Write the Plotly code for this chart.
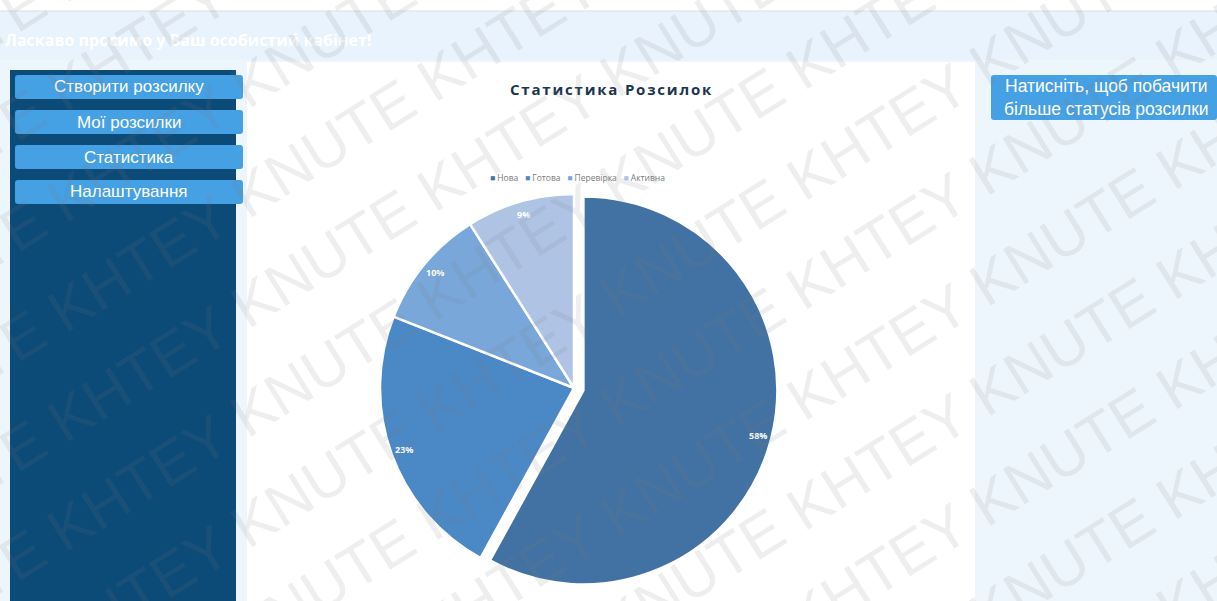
import math
import plotly.graph_objects as go

# ---------------- data ----------------
categories = ["Нова", "Готова", "Перевірка", "Активна"]
values = [58, 23, 10, 9]
colors = ["#4272a3", "#4a88c6", "#79a7da", "#afc4e5"]
pulls = [0.05, 0, 0, 0]

menu_items = ["Створити розсилку", "Мої розсилки", "Статистика", "Налаштування"]
chart_title = "Статистика Розсилок"
header_text = "Ласкаво просимо у Ваш особистий кабінет!"
side_button_text = "Натисніть, щоб побачити<br>більше статусів розсилки"
watermark_text = "KHTEY KNUTE "

W, H = 1217, 601


def px(x):
    return x / W


def py(y):
    return 1 - y / H


def rrect(x0, y0, x1, y1, r):
    """rounded rect path in paper coords from pixel coords"""
    X = lambda v: f"{px(v):.5f}"
    Y = lambda v: f"{py(v):.5f}"
    return (f"M {X(x0 + r)},{Y(y0)} L {X(x1 - r)},{Y(y0)} Q {X(x1)},{Y(y0)} {X(x1)},{Y(y0 + r)} "
            f"L {X(x1)},{Y(y1 - r)} Q {X(x1)},{Y(y1)} {X(x1 - r)},{Y(y1)} "
            f"L {X(x0 + r)},{Y(y1)} Q {X(x0)},{Y(y1)} {X(x0)},{Y(y1 - r)} "
            f"L {X(x0)},{Y(y0 + r)} Q {X(x0)},{Y(y0)} {X(x0 + r)},{Y(y0)} Z")


fig = go.Figure()

# pie geometry (pixels)
cx, cy, r0 = 574, 388, 194
half = r0 * (1 + max(pulls))
fig.add_trace(go.Pie(
    labels=categories,
    values=values,
    sort=False,
    direction="clockwise",
    rotation=0,
    pull=pulls,
    marker=dict(colors=colors, line=dict(color="white", width=2.5)),
    textinfo="none",
    hoverinfo="label+percent",
    showlegend=False,
    domain=dict(x=[px(cx - half), px(cx + half)], y=[py(cy + half), py(cy - half)]),
))

shapes = []
annotations = []

# top white strip + border
shapes.append(dict(type="rect", xref="paper", yref="paper", x0=0, x1=1, y0=py(11), y1=1,
                   fillcolor="white", line=dict(width=0), layer="below"))
shapes.append(dict(type="line", xref="paper", yref="paper", x0=0, x1=1, y0=py(11), y1=py(11),
                   line=dict(color="#d8dde2", width=1), layer="below"))
# header band
shapes.append(dict(type="rect", xref="paper", yref="paper", x0=0, x1=1, y0=py(60), y1=py(12),
                   fillcolor="#e8f3fd", line=dict(width=0), layer="below"))
# chart white area
shapes.append(dict(type="rect", xref="paper", yref="paper", x0=px(247), x1=px(975), y0=0, y1=py(62),
                   fillcolor="white", line=dict(width=0), layer="below"))
# sidebar
shapes.append(dict(type="rect", xref="paper", yref="paper", x0=px(10), x1=px(236), y0=0, y1=py(70),
                   fillcolor="#0c4a77", line=dict(width=0), layer="below"))

# menu buttons
btn_tops = [75, 110, 145, 180]
for label, top in zip(menu_items, btn_tops):
    shapes.append(dict(type="path", xref="paper", yref="paper", path=rrect(15, top, 243, top + 24, 3),
                       fillcolor="#46a0e4", line=dict(width=0), layer="below"))
    annotations.append(dict(xref="paper", yref="paper", x=px(129), y=py(top + 12), text=label,
                            showarrow=False, xanchor="center", yanchor="middle",
                            font=dict(family="Liberation Sans, Arial", size=17, color="white")))

# right button
shapes.append(dict(type="path", xref="paper", yref="paper", path=rrect(991, 75, 1217, 120, 3),
                   fillcolor="#46a0e4", line=dict(width=0), layer="below"))
annotations.append(dict(xref="paper", yref="paper", x=px(1106), y=py(97.5), text=side_button_text,
                        showarrow=False, xanchor="center", yanchor="middle", align="center",
                        font=dict(family="Liberation Sans, Arial", size=17.5, color="white")))

# header text
annotations.append(dict(xref="paper", yref="paper", x=px(3), y=py(40), text=f"<b>{header_text}</b>",
                        showarrow=False, xanchor="left", yanchor="middle",
                        font=dict(family="Open Sans, Arial", size=16, color="white")))

# chart title
annotations.append(dict(xref="paper", yref="paper", x=px(611), y=py(89),
                        text=f"<span style='letter-spacing:1.8px'><b>{chart_title}</b></span>",
                        showarrow=False, xanchor="center", yanchor="middle",
                        font=dict(family="Open Sans, Arial", size=15, color="#1b3550")))

# legend (compact, one annotation built from data)
legend_parts = [f"<span style='color:{c}'>■</span> {lab}" for lab, c in zip(categories, colors)]
annotations.append(dict(xref="paper", yref="paper", x=px(577), y=py(178),
                        text="   ".join(legend_parts), showarrow=False, xanchor="center", yanchor="middle",
                        font=dict(family="Open Sans, Arial", size=8.5, color="#7a7a7a")))

# percentage labels near the outer edge (computed from data)
total = sum(values)
acc = 0
for v, p in zip(values, pulls):
    mid = (acc + v / 2) / total * 2 * math.pi
    acc += v
    rr = r0 * 0.93 + p * r0
    lx = cx + rr * math.sin(mid)
    ly = cy - rr * math.cos(mid)
    annotations.append(dict(xref="paper", yref="paper", x=px(lx), y=py(ly),
                            text=f"<b>{round(v / total * 100)}%</b>", showarrow=False,
                            xanchor="center", yanchor="middle",
                            font=dict(family="Open Sans, Arial", size=9, color="white")))

# watermark (faint diagonal repeated text)
wm = watermark_text * 5
for k in range(-6, 11):
    yc = 300 + k * 110
    annotations.append(dict(xref="paper", yref="paper", x=px(608), y=py(yc), text=wm,
                            showarrow=False, textangle=-32, xanchor="center", yanchor="middle",
                            font=dict(family="Liberation Sans, Arial", size=60,
                                      color="rgba(120,120,120,0.13)")))

fig.update_layout(
    width=W, height=H, autosize=False,
    margin=dict(l=0, r=0, t=0, b=0),
    paper_bgcolor="#eef6fd",
    plot_bgcolor="#eef6fd",
    shapes=shapes,
    annotations=annotations,
    showlegend=False,
)

fig.write_html("out.html")
